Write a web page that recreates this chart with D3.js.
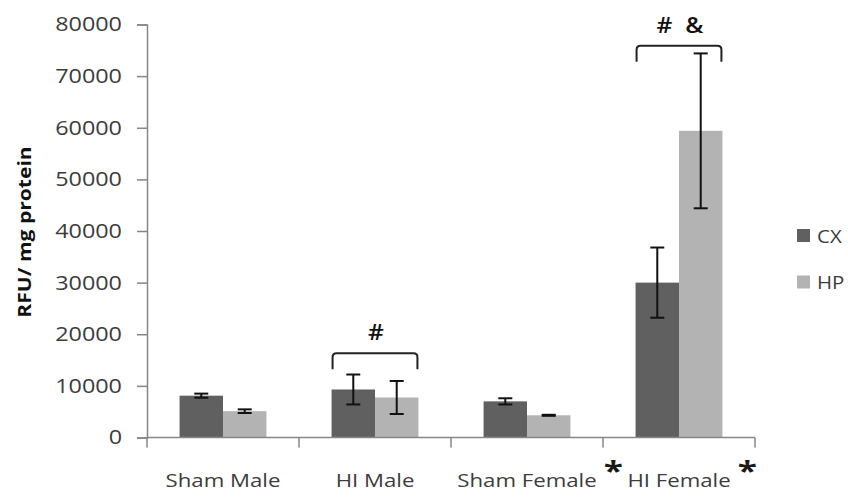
<!DOCTYPE html>
<html>
<head>
<meta charset="utf-8">
<script src="https://cdn.jsdelivr.net/npm/d3@7"></script>
<style>
  html, body { margin: 0; padding: 0; background: #fff; }
  svg { display: block; font-family: "Open Sans", sans-serif; }
</style>
</head>
<body>
<svg id="chart" width="848" height="501"></svg>
<script>
// Group labels and series
const categories = ["Sham Male", "HI Male", "Sham Female", "HI Female"];
const seriesNames = ["CX", "HP"];

// Mean RFU / mg protein with error (±)
const cxValues = [8100, 9300, 7000, 30000];
const cxErrors = [400, 2900, 600, 6800];
const hpValues = [5100, 7750, 4300, 59400];
const hpErrors = [350, 3200, 100, 15000];

// Y axis ticks
const yTickValues = [0, 10000, 20000, 30000, 40000, 50000, 60000, 70000, 80000];

// Significance annotations
const bracketCategories = ["HI Male", "HI Female"];
const bracketLabels = ["#", "# &"];
const bracketLevels = [16300, 75900];
const starredCategories = ["Sham Female", "HI Female"];

const colors = { CX: "#606060", HP: "#b3b3b3" };
const SX = 1.17;          // horizontal glyph stretch
const textColor = "#3c3c3c";
const axisColor = "#868686";

const svg = d3.select("#chart");

const x0 = d3.scaleBand().domain(categories).range([147, 755]).padding(0);
const bw = x0.bandwidth();
const gapW = bw * 1.5 / 3.5;
const x1 = d3.scaleBand().domain(seriesNames).range([gapW / 2, bw - gapW / 2]).padding(0);
const y = d3.scaleLinear().domain([0, 80000]).range([437.5, 24.5]);

// stretch a selection of text elements horizontally around their anchor
function stretch(sel, k = SX) {
  sel.each(function () {
    const t = d3.select(this);
    const xv = +t.attr("x") || 0;
    t.attr("x", 0).attr("transform", `translate(${xv},0) scale(${k},1)`);
  });
}

// Data table
const rows = categories.map((c, i) => ({
  category: c,
  series: [
    { name: "CX", value: cxValues[i], err: cxErrors[i] },
    { name: "HP", value: hpValues[i], err: hpErrors[i] }
  ]
}));

// Y axis
const yAxis = svg.append("g")
  .attr("transform", `translate(${x0.range()[0]},0)`)
  .call(d3.axisLeft(y).tickValues(yTickValues).tickSize(10).tickPadding(15).tickFormat(d3.format("d")));
yAxis.select(".domain").attr("stroke", axisColor).attr("stroke-width", 1.5);
yAxis.selectAll(".tick line").attr("stroke", axisColor).attr("stroke-width", 1.5);
yAxis.selectAll(".tick text")
  .attr("fill", textColor)
  .style("font-size", "20px")
  .style("font-family", "Open Sans");
stretch(yAxis.selectAll(".tick text"));

// Bars
const groups = svg.append("g").selectAll("g")
  .data(rows)
  .join("g")
  .attr("transform", d => `translate(${x0(d.category)},0)`);

groups.selectAll("rect")
  .data(d => d.series)
  .join("rect")
  .attr("x", d => x1(d.name))
  .attr("width", x1.bandwidth())
  .attr("y", d => y(d.value))
  .attr("height", d => y(0) - y(d.value))
  .attr("fill", d => colors[d.name]);

// Error bars
const capW = 14;
const eb = groups.selectAll("g.err")
  .data(d => d.series)
  .join("g")
  .attr("class", "err")
  .attr("stroke", "#111")
  .attr("stroke-width", 2);
eb.append("line")
  .attr("x1", d => x1(d.name) + x1.bandwidth() / 2)
  .attr("x2", d => x1(d.name) + x1.bandwidth() / 2)
  .attr("y1", d => y(d.value + d.err))
  .attr("y2", d => y(d.value - d.err));
eb.selectAll("line.cap")
  .data(d => [
    { cx: x1(d.name) + x1.bandwidth() / 2, v: d.value + d.err },
    { cx: x1(d.name) + x1.bandwidth() / 2, v: d.value - d.err }
  ])
  .join("line")
  .attr("class", "cap")
  .attr("x1", d => d.cx - capW / 2)
  .attr("x2", d => d.cx + capW / 2)
  .attr("y1", d => y(d.v))
  .attr("y2", d => y(d.v));

// X axis line and group boundary ticks
const xr = x0.range();
svg.append("line")
  .attr("x1", xr[0]).attr("x2", xr[1])
  .attr("y1", y(0)).attr("y2", y(0))
  .attr("stroke", axisColor).attr("stroke-width", 1.5);
const bounds = categories.map(c => x0(c)).concat([xr[1]]);
svg.append("g").selectAll("line")
  .data(bounds)
  .join("line")
  .attr("x1", d => d).attr("x2", d => d)
  .attr("y1", y(0)).attr("y2", y(0) + 10)
  .attr("stroke", axisColor).attr("stroke-width", 1.5);

// Category labels
const xAxis = svg.append("g")
  .attr("transform", `translate(0,${y(0)})`)
  .call(d3.axisBottom(x0).tickSize(0).tickPadding(36));
xAxis.select(".domain").remove();
xAxis.selectAll(".tick text")
  .attr("fill", textColor)
  .style("font-size", "19px")
  .style("font-family", "Open Sans");
stretch(xAxis.selectAll(".tick text"));

// Asterisks after starred labels
xAxis.selectAll(".tick")
  .filter(d => starredCategories.includes(d))
  .each(function (d) {
    const txt = d3.select(this).select("text").node();
    const box = txt.getBoundingClientRect();
    const tickX = x0(d) + bw / 2;
    const rightEdge = box.right - tickX;
    const star = d3.select(this).append("text")
      .attr("x", rightEdge + 7)
      .attr("y", 44)
      .attr("fill", "#1a1a1a")
      .style("font-size", "27px")
      .style("font-weight", "700")
      .style("font-family", "Open Sans")
      .attr("text-anchor", "start")
      .text("*");
    stretch(star, 1.3);
  });

// Brackets with significance markers
const br = svg.append("g").selectAll("g")
  .data(bracketCategories.map((c, i) => ({ category: c, label: bracketLabels[i], level: bracketLevels[i] })))
  .join("g");
br.append("path")
  .attr("fill", "none")
  .attr("stroke", "#222")
  .attr("stroke-width", 2)
  .attr("d", d => {
    const a = x0(d.category) + x1("CX") + 1;
    const b = x0(d.category) + x1("HP") + x1.bandwidth() - 1;
    const t = y(d.level), leg = 16, r = 4;
    return `M${a},${t + leg}L${a},${t + r}Q${a},${t} ${a + r},${t}L${b - r},${t}Q${b},${t} ${b},${t + r}L${b},${t + leg}`;
  });
br.append("text")
  .attr("x", d => x0(d.category) + bw / 2 + 1)
  .attr("y", d => y(d.level) - 13)
  .attr("text-anchor", "middle")
  .attr("fill", "#111")
  .style("font-size", "21px")
  .style("font-weight", "600")
  .attr("xml:space", "preserve")
  .text(d => d.label.replace(" ", "  "));
stretch(br.selectAll("text"));

// Y axis title
svg.append("text")
  .attr("transform", `translate(31,232) rotate(-90) scale(${SX},1)`)
  .attr("text-anchor", "middle")
  .attr("fill", "#111")
  .style("font-size", "18px")
  .style("font-weight", "700")
  .text("RFU/ mg protein");

// Legend
const lg = svg.append("g").selectAll("g")
  .data(seriesNames)
  .join("g")
  .attr("transform", (d, i) => `translate(797,${229 + i * 46.5})`);
lg.append("rect")
  .attr("width", 13).attr("height", 13)
  .attr("fill", d => colors[d]);
lg.append("text")
  .attr("x", 20).attr("y", 13.5)
  .attr("fill", textColor)
  .style("font-size", "17.5px")
  .text(d => d);
stretch(lg.selectAll("text"));
</script>
</body>
</html>
